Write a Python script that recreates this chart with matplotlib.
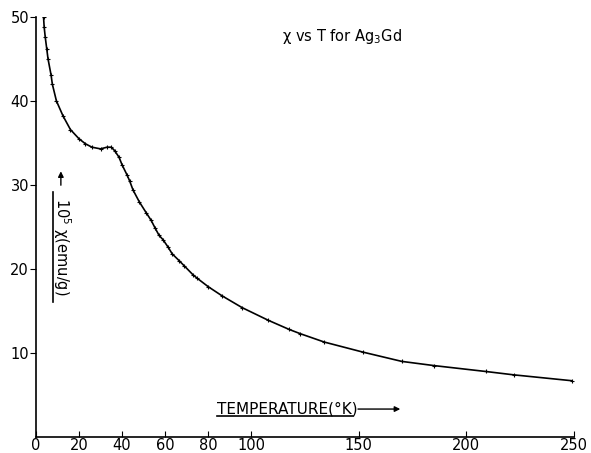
import matplotlib
matplotlib.use("Agg")
import matplotlib.pyplot as plt
from matplotlib.lines import Line2D
from matplotlib.patches import FancyArrowPatch

# susceptibility of Ag3Gd vs temperature
temp_K = [3.5, 3.8, 4.3, 5.0, 5.6, 7.0, 7.6, 9.5, 12.6, 16, 20, 23, 26, 30,
          33, 35, 36.5, 38.6, 40, 42.3, 43.5, 45.1, 48, 51.2, 53.5, 55.3,
          57.2, 59, 61.4, 63.3, 66.5, 68.8, 73, 74.9, 80, 86.5, 95.8, 107.9,
          117.7, 122.8, 134, 152, 170, 185, 209, 222, 249]
chi = [50.0, 48.8, 47.6, 46.2, 45.0, 43.1, 42.0, 40.0, 38.2, 36.6, 35.5,
       34.9, 34.5, 34.3, 34.5, 34.5, 34.1, 33.3, 32.4, 31.2, 30.5, 29.4,
       28.0, 26.7, 25.8, 24.9, 24.0, 23.5, 22.6, 21.8, 21.0, 20.4, 19.3,
       18.9, 17.9, 16.8, 15.4, 13.9, 12.8, 12.3, 11.3, 10.1, 9.0, 8.5, 7.8,
       7.4, 6.7]

xticks = [0, 20, 40, 60, 80, 100, 150, 200, 250]
yticks = [10, 20, 30, 40, 50]

fig = plt.figure(figsize=(5.91, 4.53), dpi=100)
ax = fig.add_axes([0.0609, 0.0353, 0.9103, 0.9272])

ax.plot(temp_K, chi, color="black", lw=1.2, marker="+", ms=3.5, mew=0.8)

ax.set_xlim(0, 250)
ax.set_ylim(0, 50)
ax.set_xticks(xticks)
ax.set_yticks(yticks)
ax.tick_params(axis="x", direction="in", length=4, labelsize=10.5, pad=1)
ax.tick_params(axis="y", direction="out", length=4, labelsize=10.5, pad=1)
for s in ("top", "right"):
    ax.spines[s].set_visible(False)
for s in ("left", "bottom"):
    ax.spines[s].set_linewidth(1.2)

fig.text(0.579, 0.92, r"χ vs T for Ag$_3$Gd", ha="center", va="center", fontsize=10.5)

# y label, written downwards, underlined, arrow pointing up
fig.text(0.105, 0.455, r"$10^5$ χ(emu/g)", rotation=-90, ha="center", va="center",
         fontsize=10.5)
fig.add_artist(Line2D([0.089, 0.089], [0.333, 0.576], color="black", lw=1.2,
                      transform=fig.transFigure))
fig.patches.append(FancyArrowPatch(
    (0.103, 0.585), (0.103, 0.628), arrowstyle="-|>", mutation_scale=8,
    color="black", lw=1.0, transform=fig.transFigure, figure=fig))

# x label, underlined, arrow pointing right
fig.text(0.367, 0.097, "TEMPERATURE(°K)", ha="left", va="center", fontsize=11)
fig.add_artist(Line2D([0.367, 0.597], [0.081, 0.081], color="black", lw=1.2,
                      transform=fig.transFigure))
fig.patches.append(FancyArrowPatch(
    (0.601, 0.097), (0.682, 0.097), arrowstyle="-|>", mutation_scale=8,
    color="black", lw=1.0, transform=fig.transFigure, figure=fig))

fig.savefig("out.png", dpi=100)
